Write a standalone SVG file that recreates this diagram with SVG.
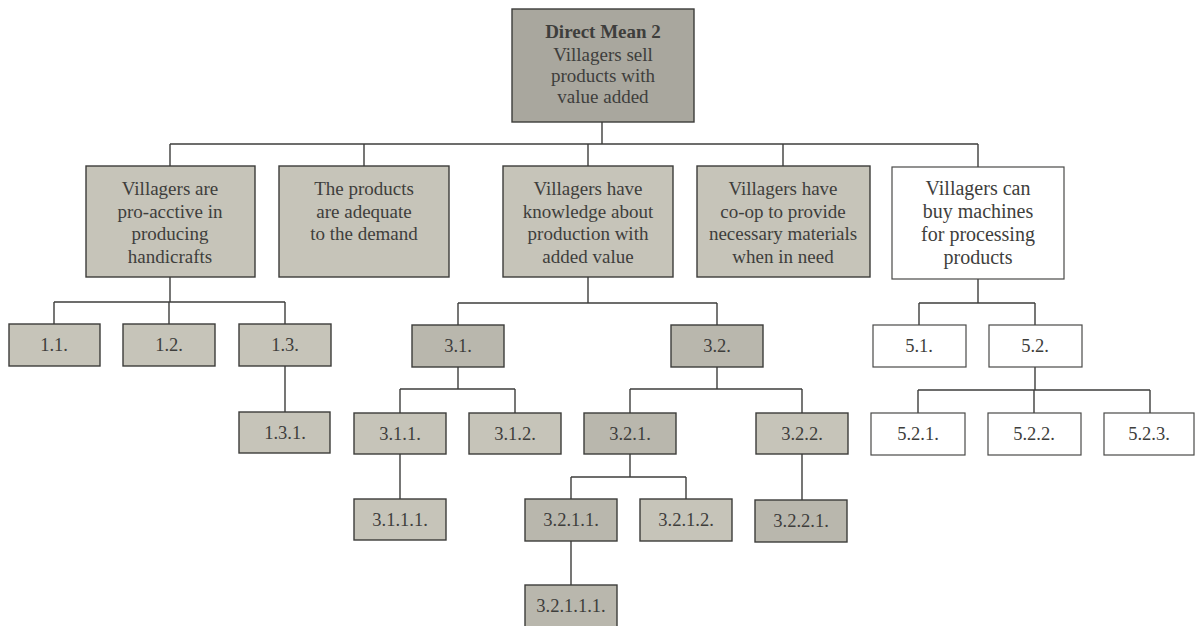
<svg xmlns="http://www.w3.org/2000/svg" width="1195" height="626" viewBox="0 0 1195 626">
  <style>
    .box { stroke: #3c3c3a; stroke-width: 1.4; }
    .g0 { fill: #a9a79e; }
    .g1 { fill: #c6c4b9; }
    .g2 { fill: #b9b7ad; }
    .w { fill: #ffffff; stroke: #4a4a48; stroke-width: 1.2; }
    .t { font-family: "Liberation Serif", "Times New Roman", serif; font-size: 19px; fill: #3e3e3c; text-anchor: middle; }
    .tw { font-size: 20px; }
    .n { font-family: "Liberation Serif", "Times New Roman", serif; font-size: 18.5px; fill: #3e3e3c; text-anchor: middle; }
    .b { font-weight: bold; }
    .c { fill: none; stroke: #3e3e3c; stroke-width: 1.4; }
  </style>

  <rect width="1195" height="626" fill="#ffffff"/>

  <!-- tree connectors -->
  <g id="connectors">
    <path class="c" d="M602 122V144M170 144H978M170 144V166M364 144V166M588 144V166M783 144V166M978 144V167"/>
    <path class="c" d="M170 277V302M54 302H285M54 302V324M169 302V324M285 302V324M285 366V412"/>
    <path class="c" d="M588 277V303M458 303H717M458 303V325M717 303V325"/>
    <path class="c" d="M458 367V389M400 389H515M400 389V413M515 389V413M400 454V499"/>
    <path class="c" d="M717 367V389M630 389H802M630 389V413M802 389V413M802 454V500"/>
    <path class="c" d="M630 454V477M571 477H686M571 477V499M686 477V499M571 541V585"/>
    <path class="c" d="M978 279V303M919 303H1035M919 303V325M1035 303V325"/>
    <path class="c" d="M1035 367V390M918 390H1150M918 390V413M1034 390V413M1150 390V413"/>
  </g>

  <g id="root">
    <rect class="box g0" x="512" y="9" width="182" height="113"/>
    <text class="t b" x="603" y="38">Direct Mean 2</text>
    <text class="t" x="603" y="61">Villagers sell</text>
    <text class="t" x="603" y="82">products with</text>
    <text class="t" x="603" y="103">value added</text>
  </g>

  <g id="n1">
    <rect class="box g1" x="86" y="166" width="169" height="111"/>
    <text class="t" x="170" y="195">Villagers are</text>
    <text class="t" x="170" y="218">pro-acctive in</text>
    <text class="t" x="170" y="240">producing</text>
    <text class="t" x="170" y="263">handicrafts</text>
  </g>
  <g id="n2">
    <rect class="box g1" x="279" y="166" width="170" height="111"/>
    <text class="t" x="364" y="195">The products</text>
    <text class="t" x="364" y="218">are adequate</text>
    <text class="t" x="364" y="240">to the demand</text>
  </g>
  <g id="n3">
    <rect class="box g1" x="503" y="166" width="170" height="111"/>
    <text class="t" x="588" y="195">Villagers have</text>
    <text class="t" x="588" y="218">knowledge about</text>
    <text class="t" x="588" y="240">production with</text>
    <text class="t" x="588" y="263">added value</text>
  </g>
  <g id="n4">
    <rect class="box g1" x="697" y="166" width="173" height="111"/>
    <text class="t" x="783" y="195">Villagers have</text>
    <text class="t" x="783" y="218">co-op to provide</text>
    <text class="t" x="783" y="240">necessary materials</text>
    <text class="t" x="783" y="263">when in need</text>
  </g>
  <g id="n5">
    <rect class="w" x="892" y="167" width="172" height="112"/>
    <text class="t tw" x="978" y="195">Villagers can</text>
    <text class="t tw" x="978" y="218">buy machines</text>
    <text class="t tw" x="978" y="241">for processing</text>
    <text class="t tw" x="978" y="264">products</text>
  </g>

  <g id="n1-1"><rect class="box g1" x="9" y="324" width="91" height="42"/><text class="n" x="54" y="351">1.1.</text></g>
  <g id="n1-2"><rect class="box g1" x="123" y="324" width="92" height="42"/><text class="n" x="169" y="351">1.2.</text></g>
  <g id="n1-3"><rect class="box g1" x="239" y="324" width="92" height="42"/><text class="n" x="285" y="351">1.3.</text></g>
  <g id="n1-3-1"><rect class="box g1" x="239" y="412" width="91" height="41"/><text class="n" x="285" y="439">1.3.1.</text></g>

  <g id="n3-1"><rect class="box g2" x="412" y="325" width="92" height="42"/><text class="n" x="458" y="352">3.1.</text></g>
  <g id="n3-2"><rect class="box g2" x="671" y="325" width="92" height="42"/><text class="n" x="717" y="352">3.2.</text></g>
  <g id="n3-1-1"><rect class="box g1" x="354" y="413" width="92" height="41"/><text class="n" x="400" y="440">3.1.1.</text></g>
  <g id="n3-1-2"><rect class="box g1" x="469" y="413" width="92" height="41"/><text class="n" x="515" y="440">3.1.2.</text></g>
  <g id="n3-2-1"><rect class="box g2" x="584" y="413" width="92" height="41"/><text class="n" x="630" y="440">3.2.1.</text></g>
  <g id="n3-2-2"><rect class="box g1" x="756" y="413" width="92" height="41"/><text class="n" x="802" y="440">3.2.2.</text></g>
  <g id="n3-1-1-1"><rect class="box g1" x="354" y="499" width="92" height="41"/><text class="n" x="400" y="526">3.1.1.1.</text></g>
  <g id="n3-2-1-1"><rect class="box g2" x="525" y="499" width="92" height="42"/><text class="n" x="571" y="526">3.2.1.1.</text></g>
  <g id="n3-2-1-2"><rect class="box g1" x="640" y="499" width="92" height="42"/><text class="n" x="686" y="526">3.2.1.2.</text></g>
  <g id="n3-2-2-1"><rect class="box g2" x="755" y="500" width="92" height="42"/><text class="n" x="801" y="527">3.2.2.1.</text></g>
  <g id="n3-2-1-1-1"><rect class="box g2" x="525" y="585" width="92" height="45"/><text class="n" x="571" y="612">3.2.1.1.1.</text></g>

  <g id="n5-1"><rect class="w" x="873" y="325" width="93" height="42"/><text class="n" x="919" y="352">5.1.</text></g>
  <g id="n5-2"><rect class="w" x="989" y="325" width="93" height="42"/><text class="n" x="1035" y="352">5.2.</text></g>
  <g id="n5-2-1"><rect class="w" x="871" y="413" width="94" height="42"/><text class="n" x="918" y="440">5.2.1.</text></g>
  <g id="n5-2-2"><rect class="w" x="988" y="413" width="93" height="42"/><text class="n" x="1034" y="440">5.2.2.</text></g>
  <g id="n5-2-3"><rect class="w" x="1104" y="413" width="90" height="42"/><text class="n" x="1149" y="440">5.2.3.</text></g>
</svg>
